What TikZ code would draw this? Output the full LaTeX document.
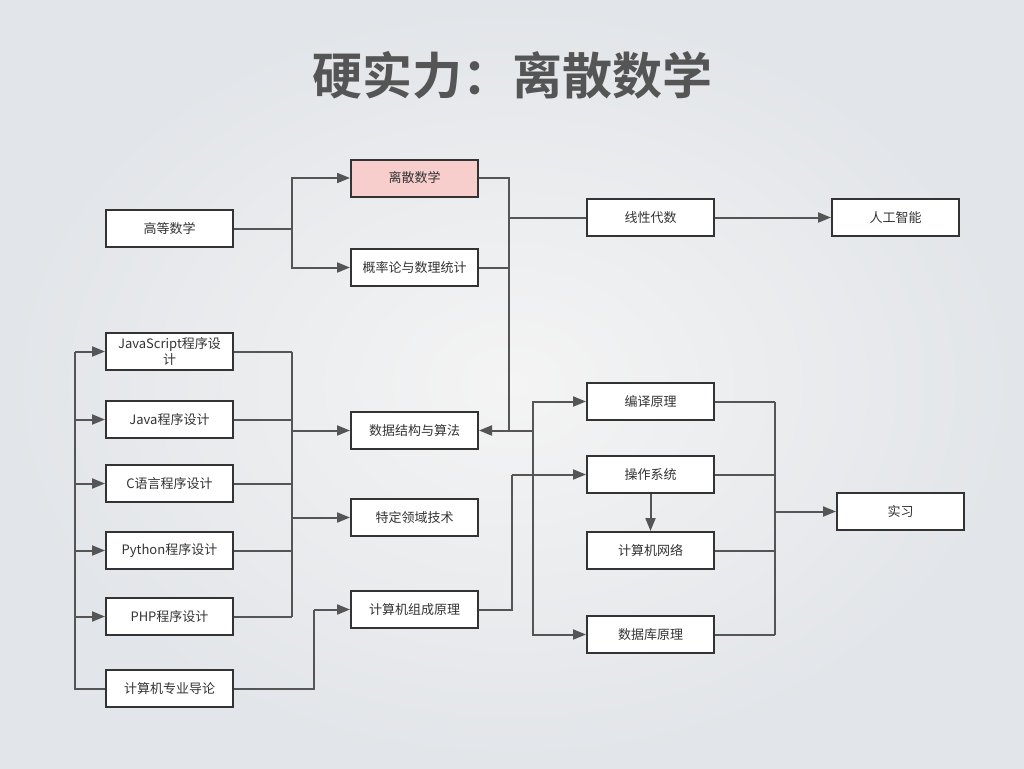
\documentclass[tikz,border=0pt]{standalone}
\usepackage{fontspec}
\setmainfont{Noto Sans CJK SC}
\newfontfamily\titlefont{Noto Sans CJK SC Bold}
\usetikzlibrary{arrows.meta}
\definecolor{bgin}{HTML}{F4F4F4}
\definecolor{bgout}{HTML}{E2E5E9}
\definecolor{boxc}{HTML}{333333}
\definecolor{textc}{HTML}{333333}
\definecolor{linec}{HTML}{555555}
\definecolor{pinkc}{HTML}{F8CECC}
\definecolor{titlec}{HTML}{555555}
\begin{document}
\begin{tikzpicture}[x=1pt,y=-1pt,
  box/.style={draw=boxc, line width=2pt, fill=white, minimum width=127pt, minimum height=37pt, inner sep=0pt, align=center, font=\fontsize{13}{14}\selectfont, text=textc},
  conn/.style={draw=linec, line width=2pt},
  arr/.style={conn, -{Triangle[length=13pt,width=10pt]}}]
\shade[inner color=bgin, outer color=bgout] (0,0) rectangle (1024,768);
\useasboundingbox (0,0) rectangle (1024,768);
\node[font=\titlefont\fontsize{50}{54}\selectfont, text=titlec] (title) at (512,75) {硬实力：离散数学};

\node[box] (gdsx) at (169.5,228.5) {高等数学};
\node[box, fill=pinkc] (lssx) at (414.5,178) {离散数学};
\node[box] (gll) at (414.5,267.5) {概率论与数理统计};
\node[box] (xxds) at (650.5,217.5) {线性代数};
\node[box] (rgzn) at (895.5,217.5) {人工智能};
\node[box] (js) at (169.5,351.5) {JavaScript程序设\\[1.5pt]计};
\node[box] (java) at (169.5,419.5) {Java程序设计};
\node[box] (c) at (169.5,483.5) {C语言程序设计};
\node[box] (py) at (169.5,550.5) {Python程序设计};
\node[box] (php) at (169.5,616.5) {PHP程序设计};
\node[box] (dl) at (169.5,688.5) {计算机专业导论};
\node[box] (sjjg) at (414.5,430.5) {数据结构与算法};
\node[box] (tdly) at (414.5,517.5) {特定领域技术};
\node[box] (zc) at (414.5,609.5) {计算机组成原理};
\node[box] (by) at (650.5,401.5) {编译原理};
\node[box] (czxt) at (650.5,474.5) {操作系统};
\node[box] (wl) at (650.5,550.5) {计算机网络};
\node[box] (sjk) at (650.5,634.5) {数据库原理};
\node[box] (sx) at (900.5,511.5) {实习};

% 高等数学 -> 离散数学 / 概率论
\draw[conn] (gdsx.east) -- (292,228.5);
\draw[arr] (292,228.5) |- (lssx.west);
\draw[arr] (292,228.5) |- (gll.west);

% 离散数学, 概率论 -> bus x=509
\draw[conn] (lssx.east) -| (509,430.5);
\draw[conn] (gll.east) -- (509,267.5);
\draw[conn] (509,217.5) -- (xxds.west);
\draw[arr] (xxds.east) -- (rgzn.west);
\draw[arr] (533,430.5) -- (sjjg.east);

% bus x=533
\draw[arr] (533,430.5) |- (by.west);
\draw[arr] (533,430.5) |- (sjk.west);

% left bus x=75
\draw[conn] (dl.west) -| (75,351.5);
\foreach \n in {js,java,c,py,php}{
  \draw[arr] (75,0 |- \n.west) -- (\n.west);
}

% programming -> bus x=292
\foreach \n in {js,java,c,py,php}{
  \draw[conn] (\n.east) -- (292,0 |- \n.east);
}
\draw[conn] (292,351.5) -- (292,616.5);
\draw[arr] (292,430.5) -- (sjjg.west);
\draw[arr] (292,517.5) -- (tdly.west);

% 导论 -> 组成原理
\draw[conn] (dl.east) -- (314,688.5) -- (314,609.5);
\draw[arr] (314,609.5) -- (zc.west);

% 组成原理 -> 操作系统
\draw[conn] (zc.east) -- (512,609.5) -- (512,474.5);
\draw[arr] (512,474.5) -- (czxt.west);

% 操作系统 -> 网络
\draw[arr] (czxt.south) -- (wl.north);

% right bus x=775
\foreach \n in {by,czxt,wl,sjk}{
  \draw[conn] (\n.east) -- (775,0 |- \n.east);
}
\draw[conn] (775,401.5) -- (775,634.5);
\draw[arr] (775,511.5) -- (sx.west);
\end{tikzpicture}
\end{document}
